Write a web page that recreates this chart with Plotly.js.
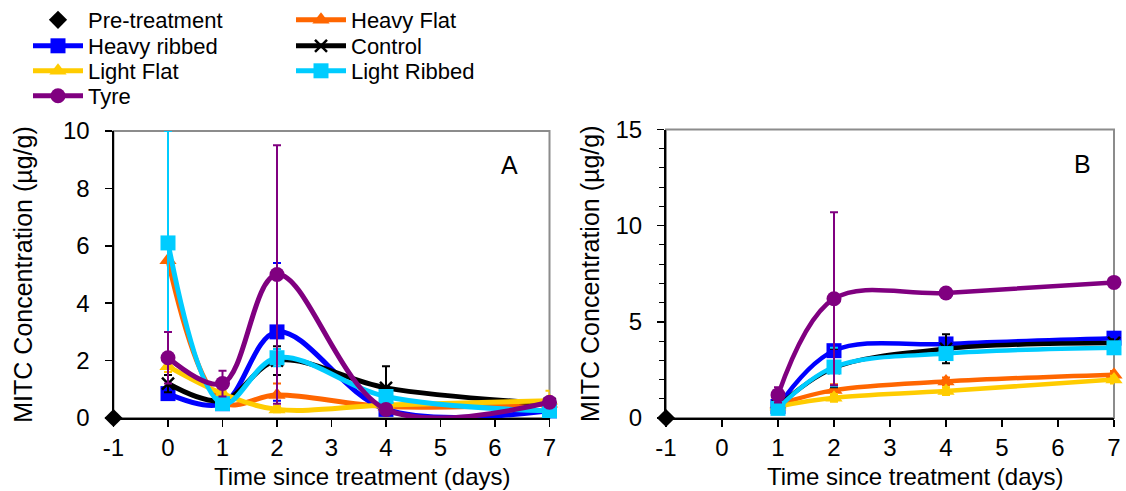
<!DOCTYPE html>
<html>
<head>
<meta charset="utf-8">
<script src="https://cdn.plot.ly/plotly-3.0.1.min.js"></script>
<style>html,body{margin:0;padding:0;background:#fff;}#chart{width:1126px;height:491px;}</style>
</head>
<body>
<div id="chart"></div>
<script>
// ---- Data ----
const seriesNames = ["Pre-treatment", "Heavy Flat", "Heavy ribbed", "Control", "Light Flat", "Light Ribbed", "Tyre"];
const colors = ["#000000", "#FF6600", "#0000FF", "#000000", "#FFCC00", "#00CCFF", "#800080"];
const symbols = ["diamond", "triangle-up", "square", "x-thin-open", "triangle-up", "square", "circle"];

const preX = [-1];
const preY = [0];

const daysA = [0, 1, 2, 4, 7];
const heavyFlatA = [5.5, 0.55, 0.8, 0.4, 0.5];
const heavyRibbedA = [0.85, 0.5, 3.0, 0.3, 0.25];
const controlA = [1.2, 0.6, 2.0, 1.05, 0.5];
const lightFlatA = [1.8, 0.85, 0.3, 0.45, 0.6];
const lightRibbedA = [6.1, 0.5, 2.1, 0.75, 0.25];
const tyreA = [2.1, 1.2, 5.0, 0.3, 0.55];

const heavyFlatErrA = [4.5, 0.1, 0.4, 0.1, 0.1];
const heavyRibbedErrA = [0.2, 0.1, 2.4, 0.1, 0.1];
const controlErrA = [0.3, 0.1, 0.5, 0.75, 0.1];
const lightFlatErrA = [0.2, 0.1, 0.1, 0.1, 0.35];
const lightRibbedErrA = [3.9, 0.1, 0.3, 0.1, 0.1];
const tyreErrA = [0.9, 0.45, 4.5, 0.1, 0.1];

const daysB = [1, 2, 4, 7];
const heavyFlatB = [0.7, 1.45, 1.9, 2.25];
const heavyRibbedB = [0.6, 3.5, 3.85, 4.15];
const controlB = [0.6, 2.6, 3.6, 3.9];
const lightFlatB = [0.6, 1.05, 1.4, 2.0];
const lightRibbedB = [0.5, 2.65, 3.35, 3.65];
const tyreB = [1.2, 6.2, 6.5, 7.05];

const heavyFlatErrB = [0.1, 0.3, 0.2, 0.2];
const heavyRibbedErrB = [0.1, 0.3, 0.2, 0.2];
const controlErrB = [0.2, 1.0, 0.75, 0.2];
const lightFlatErrB = [0.1, 0.2, 0.2, 0.2];
const lightRibbedErrB = [0.1, 1.0, 0.3, 0.2];
const tyreErrB = [0.4, 4.5, 0.2, 0.2];

const yTicksA = [0, 2, 4, 6, 8, 10];
const yTicksB = [0, 5, 10, 15];
const xTicks = [-1, 0, 1, 2, 3, 4, 5, 6, 7];

// ---- Build traces ----
const FONT = "Liberation Sans, Arial, sans-serif";
const legendOf = ["legend", "legend", "legend2", "legend2", "legend3", "legend3", "legend4"];
const dataA = [null, heavyFlatA, heavyRibbedA, controlA, lightFlatA, lightRibbedA, tyreA];
const errA = [null, heavyFlatErrA, heavyRibbedErrA, controlErrA, lightFlatErrA, lightRibbedErrA, tyreErrA];
const dataB = [null, heavyFlatB, heavyRibbedB, controlB, lightFlatB, lightRibbedB, tyreB];
const errB = [null, heavyFlatErrB, heavyRibbedErrB, controlErrB, lightFlatErrB, lightRibbedErrB, tyreErrB];

function markerFor(i) {
  const m = {color: colors[i], symbol: symbols[i], size: 15};
  if (symbols[i] === "square") m.size = 15;
  if (symbols[i] === "x-thin-open") { m.size = 12; m.line = {color: colors[i], width: 2.5}; }
  if (symbols[i] === "diamond") m.size = 14;
  return m;
}

const traces = [];
// panel A
for (let i = 0; i < seriesNames.length; i++) {
  if (i === 0) {
    traces.push({x: preX, y: preY, name: seriesNames[0], type: "scatter", mode: "markers",
      marker: markerFor(0), xaxis: "x", yaxis: "y", legend: legendOf[0], cliponaxis: false});
    continue;
  }
  traces.push({
    x: daysA, y: dataA[i], name: seriesNames[i], type: "scatter", mode: "lines+markers",
    line: {color: colors[i], width: 5, shape: "spline", smoothing: 1},
    marker: markerFor(i),
    error_y: {type: "data", array: errA[i], visible: true, color: colors[i], thickness: 2, width: 4},
    xaxis: "x", yaxis: "y", legend: legendOf[i], cliponaxis: false
  });
}
// panel B
for (let i = 0; i < seriesNames.length; i++) {
  if (i === 0) {
    traces.push({x: preX, y: preY, name: seriesNames[0], type: "scatter", mode: "markers",
      marker: markerFor(0), xaxis: "x2", yaxis: "y2", showlegend: false, cliponaxis: false});
    continue;
  }
  traces.push({
    x: daysB, y: dataB[i], name: seriesNames[i], type: "scatter", mode: "lines+markers",
    line: {color: colors[i], width: 4.5, shape: "spline", smoothing: 1},
    marker: markerFor(i),
    error_y: {type: "data", array: errB[i], visible: true, color: colors[i], thickness: 2, width: 4},
    xaxis: "x2", yaxis: "y2", showlegend: false, cliponaxis: false
  });
}

const W = 1126, H = 491;
const xTitleText = "Time since treatment (days)";
const yTitleText = "MITC Concentration (µg/g)";
const xAxisBase = {
  range: [-1, 7], tickvals: xTicks, ticktext: xTicks.map(String), ticks: "outside", ticklen: 7, tickwidth: 1.5,
  tickcolor: "#000", showline: true, linecolor: "#000", linewidth: 2, showgrid: false, zeroline: false,
  tickfont: {family: FONT, size: 24, color: "#000"}, fixedrange: true, automargin: false
};
const yAxisBase = {
  ticks: "outside", ticklen: 7, tickwidth: 1.5, tickcolor: "#000", showline: true, linecolor: "#000", linewidth: 2,
  showgrid: false, zeroline: false, tickfont: {family: FONT, size: 24, color: "#000"}, fixedrange: true, automargin: false,
  ticklabelstandoff: 10
};

function legendRow(yPx) {
  return {orientation: "h", x: 28 / W, xref: "paper", xanchor: "left", y: 1 - yPx / H, yref: "paper",
    yanchor: "middle", entrywidth: 198, entrywidthmode: "pixels", itemwidth: 50,
    font: {family: FONT, size: 22, color: "#000"}, bgcolor: "rgba(0,0,0,0)", borderwidth: 0, tracegroupgap: 0,
    itemclick: false, itemdoubleclick: false};
}

const layout = {
  width: W, height: H, margin: {l: 0, r: 0, t: 0, b: 0, autoexpand: false},
  paper_bgcolor: "#fff", plot_bgcolor: "#fff",
  font: {family: FONT, size: 22, color: "#000"},
  xaxis: Object.assign({}, xAxisBase, {domain: [113.5 / W, 549.5 / W], anchor: "y"}),
  yaxis: Object.assign({}, yAxisBase, {domain: [1 - 418 / H, 1 - 131 / H], range: [0, 10], tickvals: yTicksA, anchor: "x",
    title: {text: yTitleText, font: {family: FONT, size: 25, color: "#000"}, standoff: 23}}),
  xaxis2: Object.assign({}, xAxisBase, {domain: [666 / W, 1114 / W], anchor: "y2"}),
  yaxis2: Object.assign({}, yAxisBase, {domain: [1 - 418 / H, 1 - 129.5 / H], range: [0, 15], tickvals: yTicksB, anchor: "x2",
    title: {text: yTitleText, font: {family: FONT, size: 25, color: "#000"}, standoff: 9},
    minor: {dtick: 1, ticks: "outside", ticklen: 5, tickwidth: 1, tickcolor: "#000", showgrid: false}}),
  legend: legendRow(20),
  legend2: legendRow(46),
  legend3: legendRow(71),
  legend4: legendRow(96),
  shapes: [
    {type: "rect", xref: "x domain", yref: "y domain", x0: 0, x1: 1, y0: 0, y1: 1, line: {color: "#8c8c8c", width: 2}, layer: "below"},
    {type: "rect", xref: "x2 domain", yref: "y2 domain", x0: 0, x1: 1, y0: 0, y1: 1, line: {color: "#8c8c8c", width: 2}, layer: "below"}
  ],
  annotations: [
    {text: "A", xref: "x", yref: "y", x: 6.27, y: 8.8, showarrow: false, font: {family: FONT, size: 25, color: "#000"}},
    {text: "B", xref: "x2", yref: "y2", x: 6.43, y: 13.2, showarrow: false, font: {family: FONT, size: 25, color: "#000"}},
    {text: xTitleText, xref: "paper", yref: "paper", x: 362 / W, y: 1 - 476 / H, xanchor: "center", yanchor: "middle",
      showarrow: false, font: {family: FONT, size: 24, color: "#000"}},
    {text: xTitleText, xref: "paper", yref: "paper", x: 915 / W, y: 1 - 476 / H, xanchor: "center", yanchor: "middle",
      showarrow: false, font: {family: FONT, size: 24, color: "#000"}}
  ]
};

Plotly.newPlot("chart", traces, layout, {displayModeBar: false, staticPlot: true});
</script>
</body>
</html>
